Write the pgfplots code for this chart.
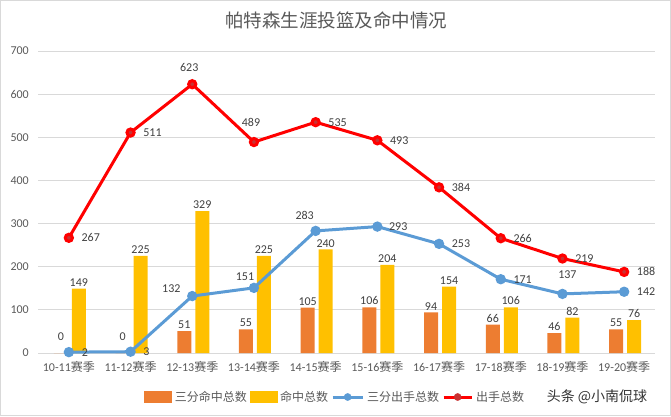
\documentclass[border=0pt]{standalone}
\usepackage{pgfplots}
\pgfplotsset{compat=1.18}
\usepackage{pgfplotstable}
\usepackage{fontspec}
\setmainfont{Carlito}
\newfontfamily\cjk{Noto Sans CJK SC}
\definecolor{cOrange}{HTML}{ED7D31}
\definecolor{cYellow}{HTML}{FFC000}
\definecolor{cBlue}{HTML}{5B9BD5}
\definecolor{cRed}{HTML}{FF0000}
\definecolor{cMark}{HTML}{C83232}
\definecolor{cGrid}{HTML}{D9D9D9}
\definecolor{cTick}{HTML}{595959}
\definecolor{cLab}{HTML}{404040}
\pgfplotstableread{
x tpm tm tpa ta rdx rdy bdx bdy oy
0 0   149 2   267 22 0  16 0  10
1 0   225 3   511 22 0  16 0  10
2 51  329 132 623 -3 17 -21 7 0
3 55  225 151 489 -3 20 -9 11 0
4 105 240 283 535 22 0  -11 16 0
5 106 204 293 493 22 0  21 0 0
6 94  154 253 384 22 0  22 0 0
7 66  106 171 266 22 0  22 0 0
8 46  82  137 219 22 0  5 19 0
9 55  76  142 188 22 0  22 0 0
}\data
\newcommand\lf{\fontsize{12bp}{14bp}\selectfont}
\begin{document}
\begin{tikzpicture}[x=1bp,y=1bp]
\useasboundingbox (0,0) rectangle (671,416);
\draw[cGrid, line width=1bp] (0.5,0.5) rectangle (670.5,415.5);
\node[font={\cjk\fontsize{18.5bp}{20bp}\selectfont}, text=cTick] at (336,396) {帕特森生涯投篮及命中情况};
\node[font={\cjk\fontsize{14bp}{16bp}\selectfont}, text=black!80] at (597,19) {头条 @小南侃球};
\begin{axis}[
  at={(38bp,63bp)}, anchor=south west,
  scale only axis, width=617bp, height=302bp,
  xmin=-0.5, xmax=9.5, ymin=0, ymax=700,
  ytick={0,100,...,700},
  xtick={0,...,9},
  xticklabels={10-11{\cjk 赛季},11-12{\cjk 赛季},12-13{\cjk 赛季},13-14{\cjk 赛季},14-15{\cjk 赛季},15-16{\cjk 赛季},16-17{\cjk 赛季},17-18{\cjk 赛季},18-19{\cjk 赛季},19-20{\cjk 赛季}},
  /pgf/number format/assume math mode=true,
  ymajorgrids, grid style={cGrid, line width=0.75bp},
  axis line style={draw=none},
  major tick length=0pt,
  yticklabel style={font=\lf, text=cTick, anchor=east, inner sep=0pt, xshift=-9bp},
  xticklabel style={font=\lf, text=cTick, anchor=north, inner sep=0pt, yshift=-8bp},
  clip=false,
  legend style={at={(0.481,-0.1457)}, anchor=center, draw=none, fill=none,
    legend columns=4, font={\cjk\fontsize{12bp}{14bp}\selectfont}, text=cTick,
    nodes={inner sep=1bp}, column sep=2bp},
]
\addplot[ybar, bar width=14bp, bar shift=-8bp, fill=cOrange, draw=none, forget plot,
  visualization depends on={\thisrow{oy} \as \oy},
  nodes near coords, nodes near coords style={font=\lf, text=cLab, anchor=south, inner sep=2bp, xshift=-8bp, yshift=\oy}]
  table[x=x,y=tpm]{\data};
\addplot[ybar, bar width=14bp, bar shift=10bp, fill=cYellow, draw=none, forget plot,
  nodes near coords, nodes near coords style={font=\lf, text=cLab, anchor=south, inner sep=2bp, xshift=10bp}]
  table[x=x,y=tm]{\data};
\addplot[cBlue, line width=3bp, mark=*, mark size=3.6bp, mark options={fill=cBlue, draw=none}, forget plot,
  visualization depends on={\thisrow{bdx} \as \dx},
  visualization depends on={\thisrow{bdy} \as \dy},
  nodes near coords, nodes near coords style={font=\lf, text=cLab, anchor=center, xshift=\dx, yshift=\dy}]
  table[x=x,y=tpa]{\data};
\addplot[cRed, line width=3bp, mark=*, mark size=3.6bp, mark options={fill=cMark, draw=none}, forget plot,
  visualization depends on={\thisrow{rdx} \as \dx},
  visualization depends on={\thisrow{rdy} \as \dy},
  nodes near coords, nodes near coords style={font=\lf, text=cLab, anchor=center, xshift=\dx, yshift=\dy}]
  table[x=x,y=ta]{\data};
\addlegendimage{legend image code/.code={\fill[cOrange] (0bp,-5.5bp) rectangle (27bp,5.5bp);}}
\addlegendentry{三分命中总数}
\addlegendimage{legend image code/.code={\fill[cYellow] (0bp,-5.5bp) rectangle (27bp,5.5bp);}}
\addlegendentry{命中总数}
\addlegendimage{legend image code/.code={\draw[cBlue,line width=3bp] (0bp,0bp)--(30bp,0bp); \fill[cBlue] (15bp,0bp) circle (3.6bp);}}
\addlegendentry{三分出手总数}
\addlegendimage{legend image code/.code={\draw[cRed,line width=3bp] (0bp,0bp)--(28bp,0bp); \fill[cMark] (14bp,0bp) circle (3.6bp);}}
\addlegendentry{出手总数}
\end{axis}
\end{tikzpicture}
\end{document}
